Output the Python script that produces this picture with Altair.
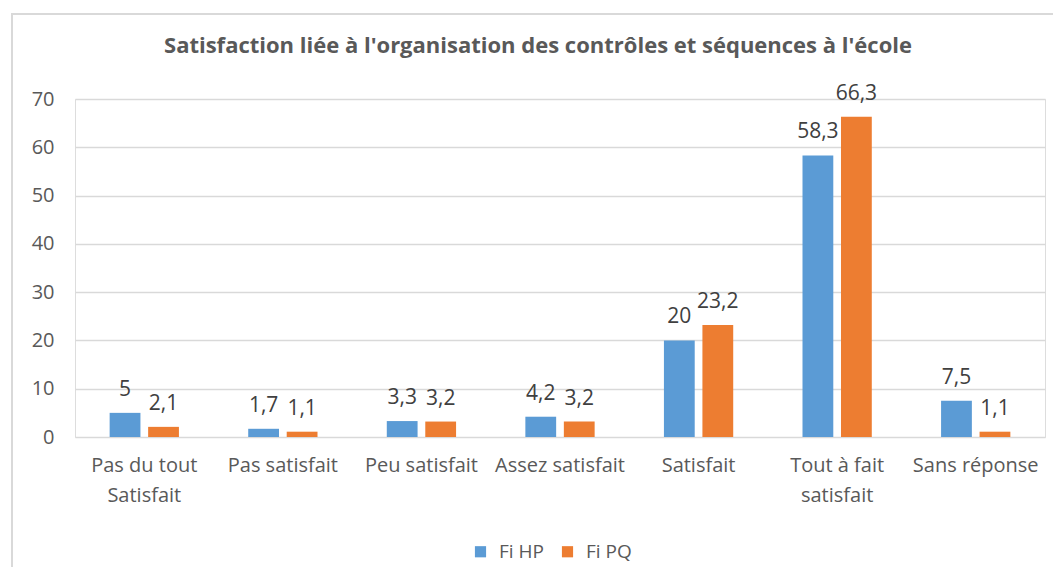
import altair as alt
import pandas as pd

categories = ["Pas du tout|Satisfait", "Pas satisfait", "Peu satisfait", "Assez satisfait",
              "Satisfait", "Tout à fait|satisfait", "Sans réponse"]
fi_hp = [5, 1.7, 3.3, 4.2, 20, 58.3, 7.5]
fi_pq = [2.1, 1.1, 3.2, 3.2, 23.2, 66.3, 1.1]
series = ["Fi HP", "Fi PQ"]
colors = ["#5B9BD5", "#ED7D31"]
y_ticks = [0, 10, 20, 30, 40, 50, 60, 70]


def fmt(v):
    s = ("%g" % v)
    return s.replace(".", ",")


rows = []
for c, a, b in zip(categories, fi_hp, fi_pq):
    rows.append({"cat": c, "serie": series[0], "val": a, "lbl": fmt(a)})
    rows.append({"cat": c, "serie": series[1], "val": b, "lbl": fmt(b)})
df = pd.DataFrame(rows)

FONT = "Open Sans"
W, H = 970, 338

x = alt.X("cat:N", sort=categories, title=None,
          scale=alt.Scale(paddingInner=0.5, paddingOuter=0.25),
          axis=alt.Axis(labelAngle=0, labelExpr="split(datum.value, '|')",
                        labelFontSize=20, labelColor="#595959", labelFont=FONT,
                        labelPadding=18, labelLineHeight=30, ticks=False, domain=False,
                        grid=False))
xo = alt.XOffset("serie:N", sort=series, scale=alt.Scale(paddingInner=0.2, paddingOuter=0))
y = alt.Y("val:Q", title=None,
          scale=alt.Scale(domain=[0, 70], nice=False),
          axis=alt.Axis(values=y_ticks, labelFontSize=20, labelColor="#595959",
                        labelFont=FONT, labelPadding=21, ticks=False, domain=False,
                        grid=True, gridColor="#D9D9D9", gridWidth=1.5))
color = alt.Color("serie:N", sort=series,
                  scale=alt.Scale(domain=series, range=colors),
                  legend=alt.Legend(title=None, orient="none", direction="horizontal",
                                    legendX=396, legendY=443, symbolType="square",
                                    symbolSize=125, symbolStrokeWidth=0,
                                    labelFontSize=19, labelColor="#595959",
                                    labelFont=FONT, columnPadding=14, labelOffset=9))

base = alt.Chart(df)
bars = base.mark_bar().encode(x=x, xOffset=xo, y=y, color=color)
labels = base.mark_text(baseline="alphabetic", dy=-17, fontSize=21, color="#404040",
                        font=FONT).encode(x=x, xOffset=xo, y=y, text="lbl:N")

frame = alt.Chart(pd.DataFrame({"a": [0]})).mark_rect(
    fill=None, stroke="#D9D9D9", strokeWidth=2
).encode(x=alt.value(-63), x2=alt.value(W + 40), y=alt.value(-85), y2=alt.value(H + 160))

chart = alt.layer(frame, bars, labels).properties(
    width=W, height=H,
    title=alt.TitleParams("Satisfaction liée à l'organisation des contrôles et séquences à l'école",
                          font=FONT, fontSize=22, fontWeight="bold", color="#595959",
                          anchor="middle", dx=-22, offset=-62, baseline="alphabetic"),
    autosize=alt.AutoSizeParams(type="none"),
    padding={"left": 67, "top": 91, "right": 8, "bottom": 130},
).configure_view(stroke=None).configure(background="white")

chart.save("out.html", embed_options={"renderer": "svg", "actions": False})
